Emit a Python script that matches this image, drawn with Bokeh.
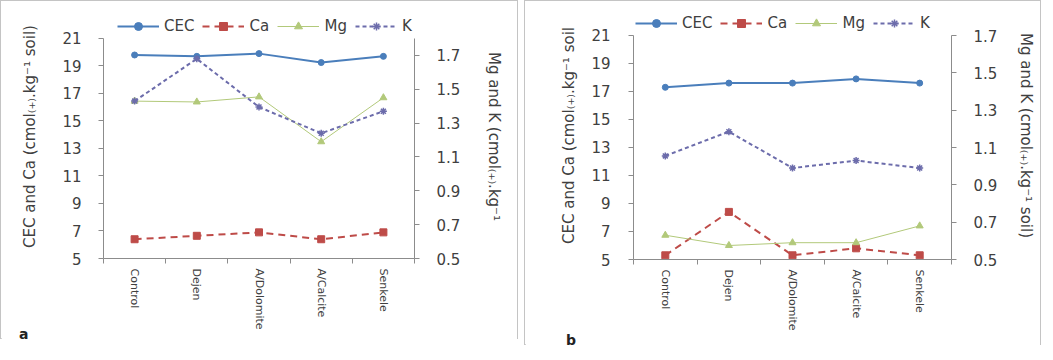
from bokeh.plotting import figure
from bokeh.models import (Range1d, LinearAxis, FixedTicker, Legend, LegendItem,
                          Div, PrintfTickFormatter)
from bokeh.layouts import row, column
from bokeh.embed import file_html
from bokeh.resources import INLINE

categories = ["Control", "Dejen", "A/Dolomite", "A/Calcite", "Senkele"]

# panel a
a_cec = [19.8, 19.7, 19.9, 19.25, 19.7]
a_ca = [6.4, 6.65, 6.9, 6.4, 6.9]
a_mg = [1.43, 1.425, 1.455, 1.19, 1.45]
a_k = [1.43, 1.68, 1.395, 1.24, 1.37]

# panel b
b_cec = [17.3, 17.6, 17.6, 17.9, 17.6]
b_ca = [5.3, 8.4, 5.3, 5.8, 5.3]
b_mg = [0.63, 0.575, 0.59, 0.59, 0.68]
b_k = [1.055, 1.185, 0.99, 1.03, 0.99]

left_ticks = [5, 7, 9, 11, 13, 15, 17, 19, 21]
right_ticks = [0.5, 0.7, 0.9, 1.1, 1.3, 1.5, 1.7]
series_names = ["CEC", "Ca", "Mg", "K"]

FONT = "DejaVu Sans"
TXT = "#404040"
AXC = "#8c8c8c"

STYLES = {
    "CEC": dict(color="#4a7ebb", width=2, dash="solid", marker="circle", size=6),
    "Ca": dict(color="#be4b48", width=2, dash="7 5", marker="square", size=7),
    "Mg": dict(color="#b2c97a", width=1, dash="solid", marker="triangle", size=7),
    "K": dict(color="#6c6cab", width=2, dash="4 3", marker="asterisk", size=7),
}


def draw_series(p, name, x, y, **kw):
    st = STYLES[name]
    ln = p.line(x, y, line_color=st["color"], line_width=st["width"],
                line_dash=st["dash"], **kw)
    sc = p.scatter(x, y, marker=st["marker"], size=st["size"],
                   fill_color=st["color"], line_color=st["color"],
                   line_width=1.5 if st["marker"] == "asterisk" else 1, **kw)
    return [ln, sc]


def make_panel(tag, cec, ca, mg, k, left_top, right_max, right_top,
               left_label, right_label, width, mb_left, mb_right, mb_top,
               inner_h, legend_xy, tag_margin,
               lstand, rstand, llab_stand, rlab_stand):
    x = [i + 0.5 for i in range(len(categories))]
    height = 344
    p = figure(width=width, height=height, output_backend="svg",
               toolbar_location=None,
               x_range=Range1d(0, len(categories)),
               y_range=Range1d(left_ticks[0], left_top),
               min_border_left=mb_left, min_border_right=mb_right,
               min_border_top=mb_top,
               min_border_bottom=height - mb_top - inner_h)
    p.extra_y_ranges = {"r": Range1d(right_ticks[0], right_top)}
    p.xgrid.visible = False
    p.ygrid.visible = False
    p.outline_line_color = None

    # x axis
    xa = p.xaxis[0]
    xa.ticker = FixedTicker(ticks=x, minor_ticks=list(range(len(categories) + 1)))
    xa.major_label_overrides = {xv: c for xv, c in zip(x, categories)}
    xa.major_label_orientation = "vertical"
    xa.major_tick_out = 0
    xa.major_tick_in = 0
    xa.minor_tick_out = 5
    xa.minor_tick_in = 0
    xa.major_label_standoff = 5
    xa.major_label_text_font = FONT
    xa.major_label_text_font_size = "11px"
    xa.major_label_text_color = TXT
    xa.axis_line_color = AXC
    xa.minor_tick_line_color = AXC

    # left axis
    ya = p.yaxis[0]
    ya.ticker = FixedTicker(ticks=left_ticks)
    ya.bounds = (left_ticks[0], left_ticks[-1])
    ya.major_label_standoff = lstand
    ya.axis_label = left_label
    ya.axis_label_standoff = llab_stand

    ra = LinearAxis(y_range_name="r", ticker=FixedTicker(ticks=right_ticks),
                    formatter=PrintfTickFormatter(format="%.1f"),
                    bounds=(right_ticks[0], right_max))
    ra.major_label_standoff = rstand
    ra.axis_label = right_label
    ra.axis_label_standoff = rlab_stand
    p.add_layout(ra, "right")

    for a in (ya, ra):
        a.minor_tick_out = 0
        a.minor_tick_in = 0
        a.major_tick_out = 5
        a.major_tick_in = 0
        a.axis_line_color = AXC
        a.major_tick_line_color = AXC
        a.major_label_text_font = FONT
        a.major_label_text_font_size = "15px"
        a.major_label_text_color = TXT
        a.axis_label_text_font = FONT
        a.axis_label_text_font_size = "15px"
        a.axis_label_text_font_style = "normal"
        a.axis_label_text_color = TXT

    rends = {
        "CEC": draw_series(p, "CEC", x, cec),
        "Ca": draw_series(p, "Ca", x, ca),
        "Mg": draw_series(p, "Mg", x, mg, y_range_name="r"),
        "K": draw_series(p, "K", x, k, y_range_name="r"),
    }

    legend = Legend(items=[LegendItem(label=n, renderers=rends[n])
                           for n in series_names],
                    orientation="horizontal", location=legend_xy,
                    glyph_width=42, glyph_height=20, label_height=20,
                    label_standoff=5, spacing=8, padding=0, margin=0,
                    border_line_color=None, background_fill_alpha=0,
                    label_text_font=FONT, label_text_font_size="15px",
                    label_text_color=TXT)
    p.add_layout(legend)

    tag_div = Div(text=tag, width=20, height=14, margin=tag_margin,
                  styles={"font-family": FONT, "font-size": "14px",
                          "font-weight": "bold", "color": "#222222"})
    return column(p, tag_div, spacing=0,
                  styles={"border": "1px solid #c4c4c4"})


pa = make_panel("a", a_cec, a_ca, a_mg, a_k, 22.745, 1.8, 1.9418,
                "CEC and Ca (cmol\u208d\u208a\u208e.kg\u207b\u00b9 soil)",
                "Mg and K (cmol\u208d\u208a\u208e.kg\u207b\u00b9",
                516, 102, 103, 13, 244, (14, 222), (-21, 0, 0, 18),
                17, 17, 20, 22)
pb = make_panel("b", b_cec, b_ca, b_mg, b_k, 22.714, 1.7, 1.8286,
                "CEC and Ca (cmol\u208d\u208a\u208e.kg\u207b\u00b9 soil",
                "Mg and K (cmol\u208d\u208a\u208e.kg\u207b\u00b9 soil)",
                515, 108, 89, 10, 248, (2, 226), (-15, 0, 0, 41),
                18, 17, 10, 17)

layout = row(pa, pb, spacing=6)
open("out.html", "w").write(file_html(layout, INLINE))
